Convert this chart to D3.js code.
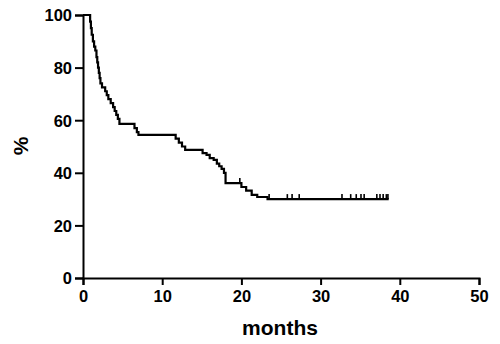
<!DOCTYPE html>
<html>
<head>
<meta charset="utf-8">
<script src="https://cdn.jsdelivr.net/npm/d3@7"></script>
<style>
  body { margin: 0; background: #fff; }
  text { font-family: "Liberation Sans", Arial, sans-serif; font-weight: bold; }
</style>
</head>
<body>
<div id="chart"></div>
<script>
// Kaplan-Meier steps
const stepTimes = [0, 0.9, 1.0, 1.1, 1.25, 1.4, 1.55, 1.7, 1.8, 1.9, 2.0, 2.1, 2.2, 2.4, 2.8, 3.0, 3.2, 3.5, 3.8, 4.0, 4.2, 4.4, 4.6,
  6.5, 6.8, 7.0, 11.7, 12.1, 12.5, 12.9, 15.1, 15.6, 16.0, 16.5, 16.9, 17.2, 17.5, 17.8, 18.0,
  20.0, 20.6, 21.3, 22.0, 23.3];
const stepSurvival = [100, 97.5, 95, 92.5, 90, 88, 86.5, 84, 82, 80, 78, 76, 74, 72.5, 71, 69.5, 68, 66.5, 65, 63.5, 62, 60.5, 58.6,
  57, 55.5, 54.4, 53, 51.5, 50, 48.7, 47.5, 46.8, 45.6, 44.9, 43.5, 42.5, 41.5, 40, 36.1,
  34.6, 33.2, 31.6, 30.8, 30.0];
const lastTime = 38.6;
const censorTimes = [19.8, 23.5, 25.8, 26.4, 27.3, 32.7, 33.8, 34.5, 35.1, 35.5, 37.1, 37.5, 37.9, 38.3, 38.5];

const xTicks = [0, 10, 20, 30, 40, 50];
const yTicks = [0, 20, 40, 60, 80, 100];

const width = 500, height = 344;

const svg = d3.select("#chart")
  .append("svg")
  .attr("width", width)
  .attr("height", height);

const x = d3.scaleLinear().domain([0, 50]).range([83, 479]);
const y = d3.scaleLinear().domain([0, 100]).range([278, 15]);

// axes
const xAxis = svg.append("g")
  .attr("transform", `translate(0, ${y(0)})`)
  .call(d3.axisBottom(x).tickValues(xTicks).tickSizeOuter(0).tickSize(7).tickPadding(5));

const yAxis = svg.append("g")
  .attr("transform", `translate(${x(0)}, 0)`)
  .call(d3.axisLeft(y).tickValues(yTicks).tickSizeOuter(0).tickSize(8).tickPadding(3));

[xAxis, yAxis].forEach(function(g) {
  g.selectAll("path, line").attr("stroke", "#000").attr("stroke-width", 2);
  g.selectAll("text")
    .attr("fill", "#000")
    .style("font-size", "16.5px")
    .style("font-family", "'Liberation Sans', Arial, sans-serif")
    .style("font-weight", "bold");
});
yAxis.selectAll("text").attr("dy", "0.36em");

// survival curve
let curve = stepTimes.map(function(t, i) { return [t, stepSurvival[i]]; });
curve.push([lastTime, stepSurvival[stepSurvival.length - 1]]);

const line = d3.line()
  .x(function(d) { return x(d[0]); })
  .y(function(d) { return y(d[1]); })
  .curve(d3.curveStepAfter);

svg.append("path")
  .datum(curve)
  .attr("d", line)
  .attr("fill", "none")
  .attr("stroke", "#000")
  .attr("stroke-width", 2.2);

// censor marks
function survivalAt(t) {
  let s = 100;
  for (let i = 0; i < stepTimes.length; i++) {
    if (stepTimes[i] <= t) s = stepSurvival[i];
  }
  return s;
}

svg.selectAll(".censor")
  .data(censorTimes)
  .enter()
  .append("line")
  .attr("class", "censor")
  .attr("x1", function(d) { return x(d); })
  .attr("x2", function(d) { return x(d); })
  .attr("y1", function(d) { return y(survivalAt(d)); })
  .attr("y2", function(d) { return y(survivalAt(d)) - 5; })
  .attr("stroke", "#000")
  .attr("stroke-width", 1.6);

// axis titles
svg.append("text")
  .attr("x", 280)
  .attr("y", 335)
  .attr("text-anchor", "middle")
  .style("font-size", "21px")
  .text("months");

svg.append("text")
  .attr("transform", "translate(28, 146) rotate(-90)")
  .attr("text-anchor", "middle")
  .style("font-size", "21px")
  .text("%");
</script>
</body>
</html>
